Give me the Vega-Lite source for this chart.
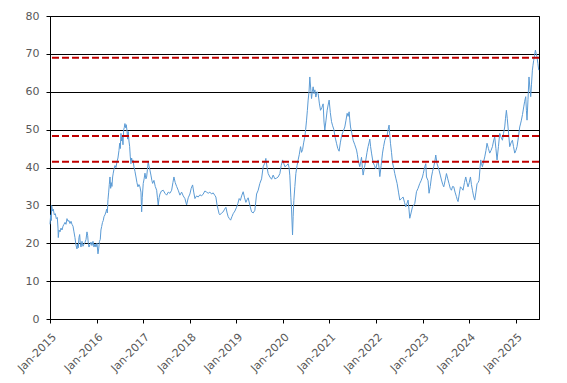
{
 "$schema": "https://vega.github.io/schema/vega-lite/v6.json",
 "autosize": {"type": "none"},
 "padding": {"left": 50, "top": 16, "right": 28, "bottom": 64},
 "width": 489,
 "height": 303,
 "config": {"view": {"stroke": "black", "strokeWidth": 1}, "font": "DejaVu Sans",
   "axisY": {"title": null, "values": [0,10,20,30,40,50,60,70,80], "grid": true, "gridColor": "black",
        "gridWidth": 1, "gridOpacity": 1, "tickSize": 4, "tickColor": "black", "domainColor": "black",
        "labelColor": "#595959", "labelFontSize": 11, "labelPadding": 7, "labelFont": "DejaVu Sans"}},
 "layer": [
  {
   "data": {"values": [
{"year":2015.000,"value":25.0},{"year":2015.015,"value":27.5},{"year":2015.028,"value":26.0},{"year":2015.036,"value":30.0},{"year":2015.054,"value":28.5},{"year":2015.071,"value":29.0},{"year":2015.092,"value":27.5},{"year":2015.114,"value":27.8},{"year":2015.135,"value":26.5},{"year":2015.157,"value":26.8},{"year":2015.172,"value":24.0},{"year":2015.178,"value":21.5},{"year":2015.193,"value":23.5},{"year":2015.215,"value":23.0},{"year":2015.236,"value":24.0},{"year":2015.258,"value":23.5},{"year":2015.279,"value":24.5},{"year":2015.300,"value":25.0},{"year":2015.322,"value":25.5},{"year":2015.343,"value":25.0},{"year":2015.365,"value":26.5},{"year":2015.386,"value":25.8},{"year":2015.408,"value":26.0},{"year":2015.429,"value":25.2},{"year":2015.451,"value":25.8},{"year":2015.472,"value":25.0},{"year":2015.494,"value":24.5},{"year":2015.515,"value":23.0},{"year":2015.536,"value":21.5},{"year":2015.558,"value":19.5},{"year":2015.579,"value":18.5},{"year":2015.594,"value":19.8},{"year":2015.607,"value":18.8},{"year":2015.622,"value":21.5},{"year":2015.637,"value":22.3},{"year":2015.650,"value":20.0},{"year":2015.665,"value":19.0},{"year":2015.687,"value":20.5},{"year":2015.708,"value":19.2},{"year":2015.730,"value":19.8},{"year":2015.751,"value":20.2},{"year":2015.773,"value":21.0},{"year":2015.794,"value":23.0},{"year":2015.809,"value":22.0},{"year":2015.822,"value":20.0},{"year":2015.837,"value":19.0},{"year":2015.858,"value":19.6},{"year":2015.880,"value":20.3},{"year":2015.901,"value":19.4},{"year":2015.923,"value":20.5},{"year":2015.944,"value":19.0},{"year":2015.966,"value":19.8},{"year":2015.987,"value":19.0},{"year":2016.009,"value":20.0},{"year":2016.030,"value":17.2},{"year":2016.045,"value":18.5},{"year":2016.062,"value":20.5},{"year":2016.079,"value":21.0},{"year":2016.094,"value":23.5},{"year":2016.109,"value":24.4},{"year":2016.127,"value":25.5},{"year":2016.144,"value":26.0},{"year":2016.159,"value":27.0},{"year":2016.180,"value":27.5},{"year":2016.202,"value":28.3},{"year":2016.217,"value":29.0},{"year":2016.230,"value":28.0},{"year":2016.245,"value":31.5},{"year":2016.260,"value":33.5},{"year":2016.273,"value":35.5},{"year":2016.288,"value":37.5},{"year":2016.303,"value":34.5},{"year":2016.315,"value":36.0},{"year":2016.330,"value":35.0},{"year":2016.345,"value":37.5},{"year":2016.358,"value":38.5},{"year":2016.373,"value":39.5},{"year":2016.395,"value":40.5},{"year":2016.416,"value":40.0},{"year":2016.438,"value":41.5},{"year":2016.459,"value":42.5},{"year":2016.481,"value":44.5},{"year":2016.496,"value":46.4},{"year":2016.509,"value":45.0},{"year":2016.524,"value":49.0},{"year":2016.539,"value":47.0},{"year":2016.552,"value":48.5},{"year":2016.567,"value":46.0},{"year":2016.582,"value":50.0},{"year":2016.594,"value":50.5},{"year":2016.609,"value":51.6},{"year":2016.624,"value":50.5},{"year":2016.637,"value":51.3},{"year":2016.652,"value":49.9},{"year":2016.667,"value":47.5},{"year":2016.680,"value":49.5},{"year":2016.695,"value":47.0},{"year":2016.710,"value":45.6},{"year":2016.723,"value":43.0},{"year":2016.738,"value":41.0},{"year":2016.753,"value":42.5},{"year":2016.766,"value":41.5},{"year":2016.781,"value":42.0},{"year":2016.803,"value":40.2},{"year":2016.824,"value":39.0},{"year":2016.846,"value":37.5},{"year":2016.867,"value":36.0},{"year":2016.888,"value":34.9},{"year":2016.910,"value":35.5},{"year":2016.931,"value":34.9},{"year":2016.953,"value":33.5},{"year":2016.968,"value":28.3},{"year":2016.981,"value":32.0},{"year":2017.002,"value":35.8},{"year":2017.021,"value":37.0},{"year":2017.039,"value":38.5},{"year":2017.060,"value":37.0},{"year":2017.075,"value":37.5},{"year":2017.092,"value":39.5},{"year":2017.109,"value":41.5},{"year":2017.124,"value":40.5},{"year":2017.146,"value":39.3},{"year":2017.167,"value":38.0},{"year":2017.189,"value":36.5},{"year":2017.204,"value":35.8},{"year":2017.232,"value":36.6},{"year":2017.260,"value":35.0},{"year":2017.290,"value":34.0},{"year":2017.307,"value":32.0},{"year":2017.324,"value":30.1},{"year":2017.343,"value":32.0},{"year":2017.361,"value":33.0},{"year":2017.393,"value":33.8},{"year":2017.431,"value":34.0},{"year":2017.468,"value":33.2},{"year":2017.504,"value":32.7},{"year":2017.539,"value":33.5},{"year":2017.575,"value":33.2},{"year":2017.612,"value":34.0},{"year":2017.639,"value":36.0},{"year":2017.661,"value":37.5},{"year":2017.689,"value":36.0},{"year":2017.719,"value":35.0},{"year":2017.753,"value":34.0},{"year":2017.790,"value":32.7},{"year":2017.826,"value":33.5},{"year":2017.861,"value":32.5},{"year":2017.897,"value":31.8},{"year":2017.933,"value":30.1},{"year":2017.968,"value":32.0},{"year":2018.004,"value":33.0},{"year":2018.032,"value":34.5},{"year":2018.062,"value":35.4},{"year":2018.086,"value":33.5},{"year":2018.112,"value":31.8},{"year":2018.148,"value":32.5},{"year":2018.182,"value":32.2},{"year":2018.219,"value":32.8},{"year":2018.255,"value":32.5},{"year":2018.290,"value":33.0},{"year":2018.326,"value":33.8},{"year":2018.363,"value":33.5},{"year":2018.397,"value":33.2},{"year":2018.433,"value":33.5},{"year":2018.470,"value":33.0},{"year":2018.504,"value":33.3},{"year":2018.541,"value":32.6},{"year":2018.562,"value":32.2},{"year":2018.588,"value":30.0},{"year":2018.612,"value":28.8},{"year":2018.631,"value":27.8},{"year":2018.648,"value":27.5},{"year":2018.685,"value":28.0},{"year":2018.719,"value":28.3},{"year":2018.749,"value":29.0},{"year":2018.777,"value":29.5},{"year":2018.803,"value":28.0},{"year":2018.826,"value":27.0},{"year":2018.852,"value":26.5},{"year":2018.878,"value":26.1},{"year":2018.906,"value":27.0},{"year":2018.933,"value":27.8},{"year":2018.970,"value":28.5},{"year":2019.006,"value":29.5},{"year":2019.034,"value":30.5},{"year":2019.062,"value":31.8},{"year":2019.088,"value":31.3},{"year":2019.114,"value":32.5},{"year":2019.148,"value":33.6},{"year":2019.178,"value":32.0},{"year":2019.206,"value":30.8},{"year":2019.232,"value":31.5},{"year":2019.255,"value":32.0},{"year":2019.292,"value":30.0},{"year":2019.328,"value":28.3},{"year":2019.363,"value":28.0},{"year":2019.399,"value":28.7},{"year":2019.436,"value":33.0},{"year":2019.470,"value":34.0},{"year":2019.506,"value":35.8},{"year":2019.543,"value":37.0},{"year":2019.577,"value":40.2},{"year":2019.607,"value":41.0},{"year":2019.635,"value":42.4},{"year":2019.661,"value":40.0},{"year":2019.685,"value":38.4},{"year":2019.721,"value":37.5},{"year":2019.758,"value":36.9},{"year":2019.792,"value":38.0},{"year":2019.828,"value":37.0},{"year":2019.865,"value":37.2},{"year":2019.899,"value":37.5},{"year":2019.936,"value":38.4},{"year":2019.964,"value":40.5},{"year":2019.994,"value":42.0},{"year":2020.021,"value":41.0},{"year":2020.043,"value":40.2},{"year":2020.079,"value":40.5},{"year":2020.114,"value":41.0},{"year":2020.133,"value":40.0},{"year":2020.150,"value":37.8},{"year":2020.172,"value":32.0},{"year":2020.187,"value":28.8},{"year":2020.208,"value":22.2},{"year":2020.221,"value":27.0},{"year":2020.236,"value":31.3},{"year":2020.258,"value":35.0},{"year":2020.279,"value":38.4},{"year":2020.305,"value":40.5},{"year":2020.328,"value":42.0},{"year":2020.354,"value":43.5},{"year":2020.380,"value":45.5},{"year":2020.401,"value":44.0},{"year":2020.423,"value":44.7},{"year":2020.446,"value":46.5},{"year":2020.472,"value":48.1},{"year":2020.489,"value":50.0},{"year":2020.509,"value":52.5},{"year":2020.526,"value":55.0},{"year":2020.543,"value":57.8},{"year":2020.562,"value":60.0},{"year":2020.579,"value":63.9},{"year":2020.597,"value":61.0},{"year":2020.616,"value":58.2},{"year":2020.633,"value":60.0},{"year":2020.650,"value":61.3},{"year":2020.670,"value":59.5},{"year":2020.687,"value":60.5},{"year":2020.708,"value":58.6},{"year":2020.734,"value":60.0},{"year":2020.758,"value":59.5},{"year":2020.783,"value":57.0},{"year":2020.809,"value":55.1},{"year":2020.837,"value":55.8},{"year":2020.865,"value":56.8},{"year":2020.884,"value":52.0},{"year":2020.901,"value":49.9},{"year":2020.927,"value":52.5},{"year":2020.951,"value":55.1},{"year":2020.972,"value":56.5},{"year":2020.994,"value":57.8},{"year":2021.019,"value":54.5},{"year":2021.045,"value":52.1},{"year":2021.069,"value":51.0},{"year":2021.094,"value":50.1},{"year":2021.122,"value":48.0},{"year":2021.152,"value":46.4},{"year":2021.180,"value":45.0},{"year":2021.208,"value":44.3},{"year":2021.234,"value":46.5},{"year":2021.260,"value":48.3},{"year":2021.294,"value":49.5},{"year":2021.330,"value":50.7},{"year":2021.356,"value":52.5},{"year":2021.380,"value":54.3},{"year":2021.401,"value":53.5},{"year":2021.423,"value":54.7},{"year":2021.438,"value":52.5},{"year":2021.453,"value":50.7},{"year":2021.481,"value":49.0},{"year":2021.509,"value":47.2},{"year":2021.545,"value":46.0},{"year":2021.582,"value":44.6},{"year":2021.599,"value":43.5},{"year":2021.616,"value":42.0},{"year":2021.635,"value":41.0},{"year":2021.652,"value":40.2},{"year":2021.670,"value":41.5},{"year":2021.689,"value":42.7},{"year":2021.706,"value":40.0},{"year":2021.723,"value":38.0},{"year":2021.753,"value":40.0},{"year":2021.781,"value":42.0},{"year":2021.807,"value":44.0},{"year":2021.830,"value":45.5},{"year":2021.850,"value":46.5},{"year":2021.867,"value":47.5},{"year":2021.884,"value":45.5},{"year":2021.904,"value":43.8},{"year":2021.921,"value":42.5},{"year":2021.938,"value":41.3},{"year":2021.968,"value":40.5},{"year":2021.996,"value":39.6},{"year":2022.021,"value":41.0},{"year":2022.045,"value":42.0},{"year":2022.064,"value":40.0},{"year":2022.082,"value":37.6},{"year":2022.110,"value":40.5},{"year":2022.140,"value":43.8},{"year":2022.163,"value":45.5},{"year":2022.189,"value":47.2},{"year":2022.215,"value":48.0},{"year":2022.238,"value":48.4},{"year":2022.260,"value":50.0},{"year":2022.281,"value":51.2},{"year":2022.296,"value":48.5},{"year":2022.311,"value":46.4},{"year":2022.333,"value":44.0},{"year":2022.354,"value":41.3},{"year":2022.378,"value":40.0},{"year":2022.403,"value":38.4},{"year":2022.429,"value":37.0},{"year":2022.453,"value":35.8},{"year":2022.483,"value":33.5},{"year":2022.511,"value":31.4},{"year":2022.547,"value":31.8},{"year":2022.582,"value":32.2},{"year":2022.612,"value":30.8},{"year":2022.639,"value":29.6},{"year":2022.665,"value":30.5},{"year":2022.689,"value":31.4},{"year":2022.708,"value":29.0},{"year":2022.725,"value":26.6},{"year":2022.753,"value":28.0},{"year":2022.783,"value":29.6},{"year":2022.807,"value":30.0},{"year":2022.833,"value":30.5},{"year":2022.869,"value":33.6},{"year":2022.903,"value":34.5},{"year":2022.940,"value":35.8},{"year":2022.968,"value":36.5},{"year":2022.998,"value":37.5},{"year":2023.015,"value":38.4},{"year":2023.047,"value":40.2},{"year":2023.069,"value":41.0},{"year":2023.084,"value":37.5},{"year":2023.118,"value":36.5},{"year":2023.139,"value":33.2},{"year":2023.165,"value":35.0},{"year":2023.191,"value":37.5},{"year":2023.215,"value":39.0},{"year":2023.240,"value":40.2},{"year":2023.262,"value":41.5},{"year":2023.283,"value":43.3},{"year":2023.311,"value":41.0},{"year":2023.354,"value":39.3},{"year":2023.380,"value":38.0},{"year":2023.406,"value":36.7},{"year":2023.433,"value":35.5},{"year":2023.455,"value":34.9},{"year":2023.483,"value":36.5},{"year":2023.513,"value":38.4},{"year":2023.541,"value":37.0},{"year":2023.569,"value":35.7},{"year":2023.594,"value":34.5},{"year":2023.620,"value":34.0},{"year":2023.644,"value":35.0},{"year":2023.670,"value":34.9},{"year":2023.697,"value":33.5},{"year":2023.727,"value":32.3},{"year":2023.745,"value":31.5},{"year":2023.762,"value":31.0},{"year":2023.788,"value":33.0},{"year":2023.813,"value":34.9},{"year":2023.841,"value":34.5},{"year":2023.869,"value":34.0},{"year":2023.899,"value":36.0},{"year":2023.927,"value":37.5},{"year":2023.953,"value":36.0},{"year":2023.976,"value":34.9},{"year":2024.002,"value":36.0},{"year":2024.028,"value":37.5},{"year":2024.049,"value":35.5},{"year":2024.071,"value":34.0},{"year":2024.094,"value":32.5},{"year":2024.120,"value":31.4},{"year":2024.146,"value":33.5},{"year":2024.170,"value":35.7},{"year":2024.191,"value":36.0},{"year":2024.212,"value":36.6},{"year":2024.232,"value":39.5},{"year":2024.249,"value":42.0},{"year":2024.266,"value":41.0},{"year":2024.285,"value":40.2},{"year":2024.309,"value":41.5},{"year":2024.335,"value":42.8},{"year":2024.361,"value":44.5},{"year":2024.384,"value":46.4},{"year":2024.414,"value":45.0},{"year":2024.442,"value":43.8},{"year":2024.470,"value":44.5},{"year":2024.500,"value":45.5},{"year":2024.524,"value":47.0},{"year":2024.549,"value":48.1},{"year":2024.575,"value":45.0},{"year":2024.599,"value":42.0},{"year":2024.629,"value":45.5},{"year":2024.657,"value":49.0},{"year":2024.685,"value":48.0},{"year":2024.715,"value":47.2},{"year":2024.738,"value":49.0},{"year":2024.764,"value":50.7},{"year":2024.781,"value":53.0},{"year":2024.800,"value":55.1},{"year":2024.818,"value":53.0},{"year":2024.835,"value":50.7},{"year":2024.854,"value":48.0},{"year":2024.871,"value":45.5},{"year":2024.899,"value":46.5},{"year":2024.929,"value":47.2},{"year":2024.953,"value":45.5},{"year":2024.979,"value":43.8},{"year":2025.004,"value":44.5},{"year":2025.028,"value":45.5},{"year":2025.058,"value":48.0},{"year":2025.086,"value":50.7},{"year":2025.103,"value":51.5},{"year":2025.122,"value":52.5},{"year":2025.146,"value":54.0},{"year":2025.172,"value":56.0},{"year":2025.193,"value":57.5},{"year":2025.215,"value":58.7},{"year":2025.230,"value":55.0},{"year":2025.243,"value":52.5},{"year":2025.264,"value":58.0},{"year":2025.285,"value":63.9},{"year":2025.305,"value":61.0},{"year":2025.322,"value":58.7},{"year":2025.339,"value":62.0},{"year":2025.358,"value":65.7},{"year":2025.371,"value":67.0},{"year":2025.386,"value":68.3},{"year":2025.403,"value":69.5},{"year":2025.423,"value":71.0},{"year":2025.440,"value":70.0},{"year":2025.457,"value":69.2},{"year":2025.476,"value":67.5},{"year":2025.494,"value":65.7}
   ]},
   "mark": {"type": "line", "color": "#5B9BD5", "strokeWidth": 1},
   "encoding": {
    "x": {"field": "year", "type": "quantitative",
      "scale": {"domain": [2015, 2025.5], "nice": false, "zero": false},
      "axis": {"title": null, "values": [2015,2016,2017,2018,2019,2020,2021,2022,2023,2024,2025],
        "labelExpr": "'Jan-' + datum.value", "grid": false, "tickSize": 4, "tickColor": "black",
        "domainColor": "black", "labelAngle": -45, "labelAlign": "right", "labelBaseline": "top",
        "labelColor": "#595959", "labelFontSize": 11, "labelPadding": 8, "labelFont": "DejaVu Sans"}},
    "y": {"field": "value", "type": "quantitative",
      "scale": {"domain": [0, 80], "nice": false}}
   }
  },
  {
   "data": {"values": [{"level": 69}, {"level": 48.3}, {"level": 41.5}]},
   "mark": {"type": "rule", "color": "#C00000", "strokeDash": [7, 3], "strokeWidth": 2},
   "encoding": {"y": {"field": "level", "type": "quantitative"}}
  }
 ]
}
